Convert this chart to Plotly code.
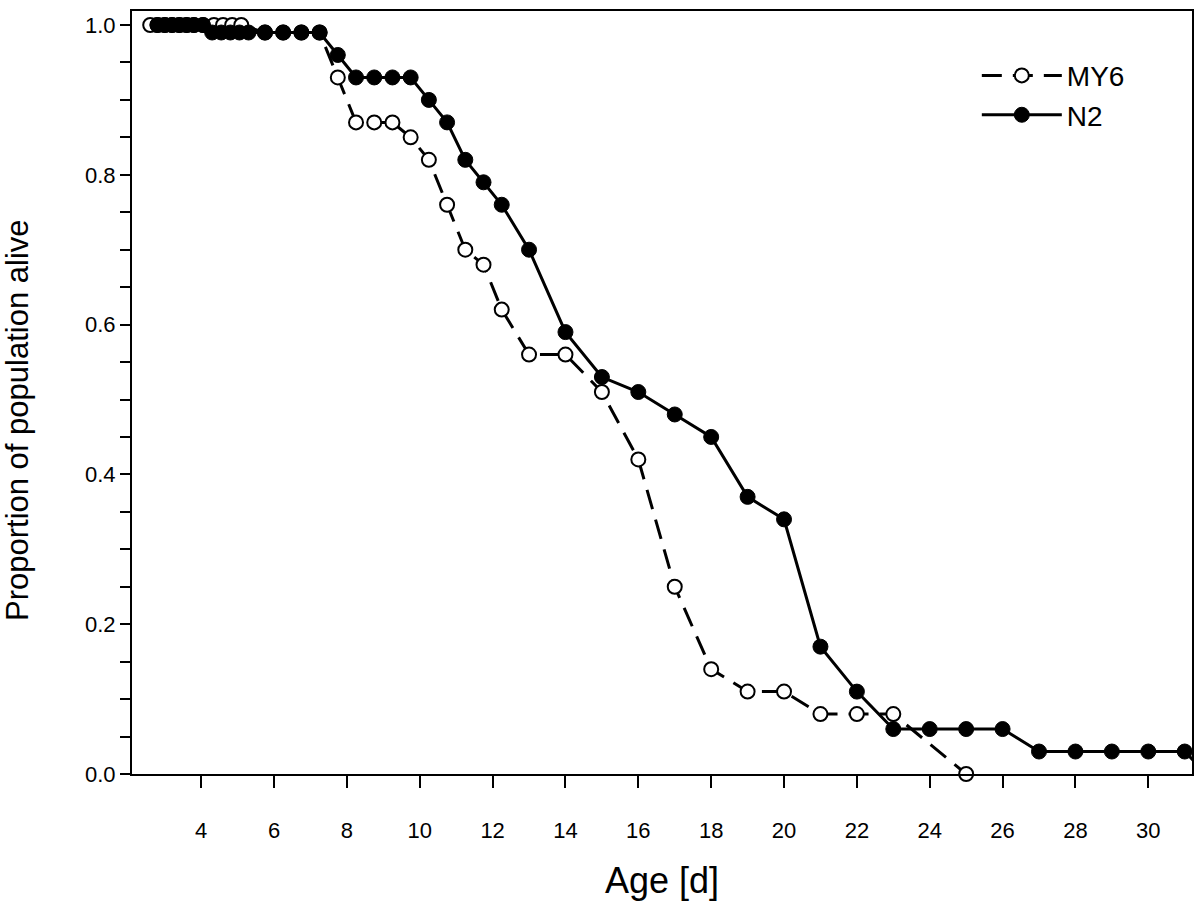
import plotly.graph_objects as go

# ---- data ----
my6_day = [2.6, 2.8, 3.0, 3.2, 3.4, 3.6, 3.8, 4.05, 4.35, 4.6, 4.85, 5.1,
           5.75, 6.25, 6.75, 7.25,
           7.75, 8.25, 8.75, 9.25, 9.75, 10.25, 10.75, 11.25, 11.75, 12.25,
           13, 14, 15, 16, 17, 18, 19, 20, 21, 22, 23, 25]
my6_alive = [1, 1, 1, 1, 1, 1, 1, 1, 1, 1, 1, 1,
             0.99, 0.99, 0.99, 0.99,
             0.93, 0.87, 0.87, 0.87, 0.85, 0.82, 0.76, 0.70, 0.68, 0.62,
             0.56, 0.56, 0.51, 0.42, 0.25, 0.14, 0.11, 0.11, 0.08, 0.08, 0.08, 0.0]

n2_day = [2.8, 3.0, 3.2, 3.4, 3.6, 3.8, 4.05,
          4.3, 4.55, 4.8, 5.05, 5.3, 5.75, 6.25, 6.75, 7.25,
          7.75, 8.25, 8.75, 9.25, 9.75, 10.25, 10.75, 11.25, 11.75, 12.25,
          13, 14, 15, 16, 17, 18, 19, 20, 21, 22, 23, 24, 25, 26, 27, 28, 29, 30, 31,
          31.6]
n2_alive = [1, 1, 1, 1, 1, 1, 1,
            0.99, 0.99, 0.99, 0.99, 0.99, 0.99, 0.99, 0.99, 0.99,
            0.96, 0.93, 0.93, 0.93, 0.93, 0.90, 0.87, 0.82, 0.79, 0.76,
            0.70, 0.59, 0.53, 0.51, 0.48, 0.45, 0.37, 0.34, 0.17, 0.11, 0.06, 0.06, 0.06, 0.06,
            0.03, 0.03, 0.03, 0.03, 0.03,
            0.0]

x_ticks = [4, 6, 8, 10, 12, 14, 16, 18, 20, 22, 24, 26, 28, 30]
y_ticks = [0.0, 0.2, 0.4, 0.6, 0.8, 1.0]
y_tick_labels = ["0.0", "0.2", "0.4", "0.6", "0.8", "1.0"]

FONT = "Liberation Sans, Arial, sans-serif"

fig = go.Figure()
fig.add_trace(go.Scatter(
    x=my6_day, y=my6_alive, name="MY6", mode="lines+markers",
    line=dict(color="black", width=3, dash="20px,11px"),
    marker=dict(symbol="circle", size=14, color="white",
                line=dict(color="black", width=2)),
    cliponaxis=False,
))
fig.add_trace(go.Scatter(
    x=n2_day, y=n2_alive, name="N2", mode="lines+markers",
    line=dict(color="black", width=3),
    marker=dict(symbol="circle", size=15, color="black",
                line=dict(color="black", width=1)),
    cliponaxis=True,
))

fig.update_layout(
    width=1200, height=901,
    margin=dict(l=132, r=8, t=11, b=127, autoexpand=False),
    paper_bgcolor="white", plot_bgcolor="white",
    font=dict(family=FONT, color="black", size=22),
    showlegend=True,
    legend=dict(
        x=0.797, y=0.948, xanchor="left", yanchor="top",
        bgcolor="rgba(0,0,0,0)", font=dict(size=28, family=FONT),
        itemwidth=80, tracegroupgap=0,
    ),
    annotations=[dict(
        text="Proportion of population alive", textangle=-90,
        xref="paper", yref="paper", x=-0.1075, y=0.464,
        xanchor="center", yanchor="middle", showarrow=False,
        font=dict(size=31, family=FONT, color="black"),
    )],
)
fig.update_xaxes(
    range=[2.1, 31.2], tickmode="array", tickvals=x_ticks,
    ticks="outside", ticklen=12, tickwidth=2, tickcolor="black",
    showline=True, linecolor="black", linewidth=2, mirror=True,
    showgrid=False, zeroline=False, automargin=False,
    tickfont=dict(size=22, family=FONT), ticklabelstandoff=24,
    title=dict(text="Age [d]", font=dict(size=36, family=FONT), standoff=27),
)
fig.update_yaxes(
    range=[0, 1.0187], tickmode="array", tickvals=y_ticks, ticktext=y_tick_labels,
    ticks="outside", ticklen=10, tickwidth=2, tickcolor="black",
    minor=dict(dtick=0.05, tick0=0, ticks="outside", ticklen=10, tickwidth=1.5,
               tickcolor="black", showgrid=False),
    showline=True, linecolor="black", linewidth=2, mirror=True,
    showgrid=False, zeroline=False, automargin=False,
    tickfont=dict(size=22, family=FONT),
)

fig.write_html(
    "out.html",
    config={"displayModeBar": False},
    post_script="document.body.style.margin='0';document.body.style.overflow='hidden';",
)
